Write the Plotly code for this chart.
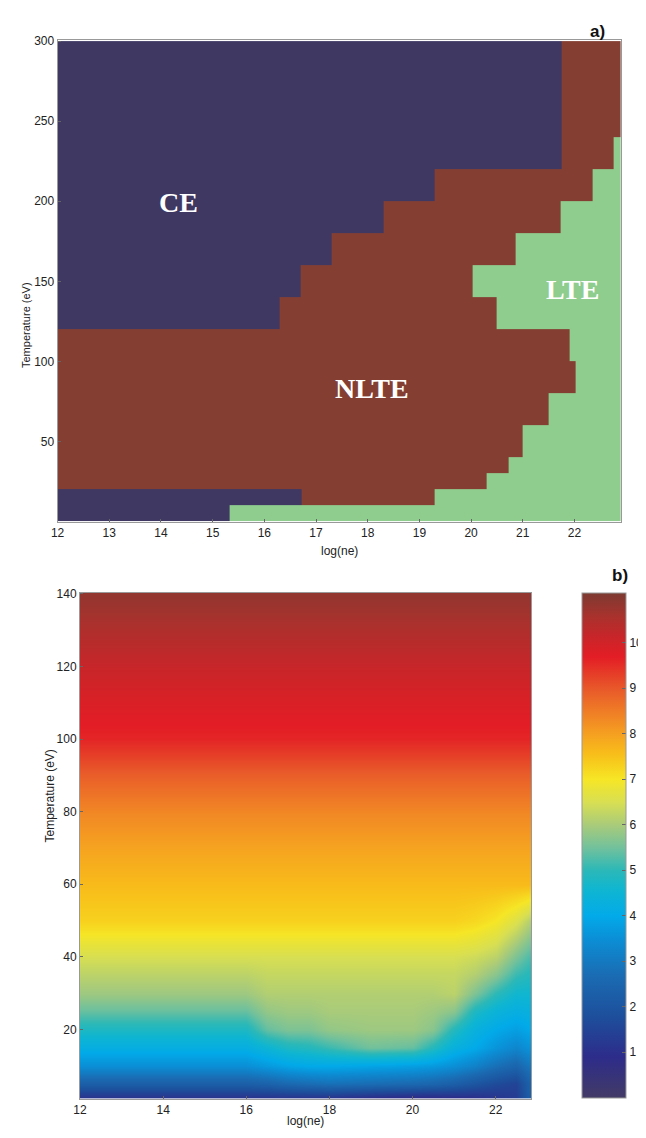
import plotly.graph_objects as go

# ---------------- Panel a: regime map ----------------
regime_names = ["CE", "NLTE", "LTE"]
regime_colors = ["#3e3863", "#843f32", "#8fcd8e"]
a_x_min, a_x_max = 12.0, 22.9
# temperature rows (edges, eV)
a_t_edges = [0, 10, 20, 30, 40, 60, 80, 100, 120, 140, 160, 180, 200, 220, 240, 300]
# per row: log(ne) where CE ends and where LTE begins
a_ce_end = [15.32, 16.72, 12.0, 12.0, 12.0, 12.0, 12.0, 12.0, 16.3, 16.7, 17.3, 18.3, 19.3, 21.75, 21.75]
a_lte_start = [15.32, 19.3, 20.3, 20.73, 21.0, 21.5, 22.03, 21.9, 20.5, 20.02, 20.87, 21.73, 22.35, 22.75, 22.9]

a_x_edges = sorted(set([a_x_min, a_x_max] + a_ce_end + a_lte_start))
a_z = []
for r in range(len(a_t_edges) - 1):
    row = []
    for c in range(len(a_x_edges) - 1):
        xc = 0.5 * (a_x_edges[c] + a_x_edges[c + 1])
        if xc < a_ce_end[r]:
            row.append(0)
        elif xc >= a_lte_start[r]:
            row.append(2)
        else:
            row.append(1)
    a_z.append(row)

# ---------------- Panel b: smooth field ----------------
b_x = [12, 16, 16.5, 17, 17.5, 18, 19, 20, 20.5, 21, 21.5, 22, 22.5, 22.85]
b_t_low = [1, 5, 10, 15, 20, 25, 30, 35, 40, 50]
b_z_low = [
    [1.0, 1.0, 1.0, 1.0, 1.0, 1.0, 0.8, 0.7, 0.7, 0.8, 0.9, 1.1, 1.3, 2.4],
    [2.3, 2.3, 2.4, 2.6, 2.7, 2.8, 2.7, 2.6, 2.5, 2.3, 2.0, 1.7, 1.5, 2.5],
    [3.5, 3.5, 3.7, 3.9, 4.0, 4.0, 3.9, 3.8, 3.7, 3.5, 3.2, 2.8, 2.5, 3.0],
    [4.2, 4.2, 4.5, 4.8, 4.9, 5.1, 5.5, 5.4, 4.9, 4.3, 4.0, 3.6, 3.3, 3.6],
    [4.8, 4.8, 5.4, 5.6, 5.6, 5.8, 5.9, 5.9, 5.7, 4.9, 4.3, 4.0, 3.8, 4.0],
    [5.4, 5.4, 5.8, 5.9, 5.9, 6.0, 6.0, 6.0, 5.9, 5.7, 4.8, 4.4, 4.2, 4.3],
    [5.9, 5.9, 6.1, 6.1, 6.1, 6.1, 6.1, 6.1, 6.1, 6.2, 5.6, 5.0, 4.6, 4.6],
    [6.2, 6.2, 6.3, 6.3, 6.3, 6.3, 6.3, 6.3, 6.3, 6.3, 6.1, 5.7, 5.1, 4.9],
    [6.5, 6.5, 6.5, 6.5, 6.5, 6.5, 6.5, 6.5, 6.5, 6.5, 6.4, 6.2, 5.6, 5.2],
    [7.3, 7.3, 7.3, 7.3, 7.3, 7.3, 7.3, 7.3, 7.3, 7.3, 7.2, 7.0, 6.6, 6.1],
]
# upper rows are uniform across log(ne)
b_t_high = [60, 70, 80, 90, 100, 110, 120, 130, 140]
b_z_high = [7.6, 7.95, 8.35, 8.9, 9.6, 9.85, 10.15, 10.5, 10.85]

b_t = b_t_low + b_t_high
b_z = [list(r) for r in b_z_low] + [[v] * len(b_x) for v in b_z_high]

cbar_ticks = [1, 2, 3, 4, 5, 6, 7, 8, 9, 10]
cmin, cmax = 0.0, 11.1
cmap_vals = [0.0, 0.9, 1.8, 2.7, 3.5, 4.0, 4.6, 5.0, 5.5, 6.0, 6.5, 7.0, 7.3, 7.6, 8.0, 8.6, 9.0, 9.7, 10.2, 10.6, 11.1]
cmap_cols = ["#433b66", "#2d2c8a", "#1d4f9c", "#1a6cb3", "#0b8fd6", "#02aae9", "#10b6d0",
             "#2bb8b8", "#72c19c", "#a9cb7a", "#d8df52", "#f6e626", "#f7d11e", "#f8bb1a", "#f5a021",
             "#ee7527", "#e8582a", "#e31d25", "#c4272a", "#a8322d", "#7c3a31"]

# ---------------- Figure ----------------
# page body has an 8 px margin; size the figure so it fills the 646x1138 window
OFF = 8
W, H = 646 - OFF, 1138 - OFF


def fx(p):
    return (p - OFF) / W


def fy(p):
    return 1 - (p - OFF) / H


fig = go.Figure()

disc = []
n = len(regime_colors)
for i, col in enumerate(regime_colors):
    disc.append([i / n, col])
    disc.append([(i + 1) / n, col])

fig.add_trace(go.Heatmap(
    x=a_x_edges, y=a_t_edges, z=a_z, zmin=-0.5, zmax=2.5,
    colorscale=disc, showscale=False, xaxis="x", yaxis="y",
    hoverinfo="skip"))

fig.add_trace(go.Heatmap(
    x=b_x, y=b_t, z=b_z, zsmooth="best", zmin=cmin, zmax=cmax,
    colorscale=[[(v - cmin) / (cmax - cmin), c] for v, c in zip(cmap_vals, cmap_cols)],
    xaxis="x2", yaxis="y2",
    colorbar=dict(
        x=fx(582), xanchor="left", y=fy(845), yanchor="middle",
        lenmode="pixels", len=505, thickness=44, thicknessmode="pixels",
        tickvals=cbar_ticks, ticks="inside", ticklen=4, tickcolor="#666",
        outlinewidth=1, outlinecolor="#999",
        tickfont=dict(family="Liberation Sans", size=12, color="#222"),
        xpad=0, ypad=0),
    hoverinfo="skip"))

font_tick = dict(family="Liberation Sans", size=12, color="#222")
axis_common = dict(showgrid=False, zeroline=False, showline=True, mirror=True,
                   linecolor="#999", linewidth=1, ticks="inside", ticklen=3,
                   tickcolor="#666", tickfont=font_tick, automargin=False)

fig.update_layout(
    width=W, height=H, margin=dict(l=0, r=0, t=0, b=0, autoexpand=False),
    paper_bgcolor="white", plot_bgcolor="white", showlegend=False,
    xaxis=dict(domain=[fx(57.6), fx(621)], range=[a_x_min, a_x_max],
               tickvals=list(range(12, 23)), anchor="y", **axis_common),
    yaxis=dict(domain=[fy(521.5), fy(39.5)], range=[0, 301],
               tickvals=[50, 100, 150, 200, 250, 300], anchor="x", **axis_common),
    xaxis2=dict(domain=[fx(80), fx(531)], range=[12, 22.85],
                tickvals=[12, 14, 16, 18, 20, 22], anchor="y2", **axis_common),
    yaxis2=dict(domain=[fy(1098.5), fy(592.7)], range=[1, 140.3],
                tickvals=[20, 40, 60, 80, 100, 120, 140], anchor="x2", **axis_common),
)

ann = []
lab_font = dict(family="Liberation Serif", size=28, color="white")
ann.append(dict(x=14.33, y=199, xref="x", yref="y", text="<b>CE</b>", showarrow=False, font=lab_font))
ann.append(dict(x=18.08, y=83, xref="x", yref="y", text="<b>NLTE</b>", showarrow=False, font=lab_font))
ann.append(dict(x=21.97, y=145, xref="x", yref="y", text="<b>LTE</b>", showarrow=False, font=lab_font))

title_font = dict(family="Liberation Sans", size=12, color="#222")
ann.append(dict(x=fx(339), y=fy(551), xref="paper", yref="paper", text="log(ne)",
                showarrow=False, font=title_font))
ann.append(dict(x=fx(18), y=fy(280), xref="paper", yref="paper", text="Temperature (eV)",
                textangle=-90, showarrow=False, font=dict(family="Liberation Sans", size=11, color="#222")))
ann.append(dict(x=fx(305), y=fy(1130), xref="paper", yref="paper", text="log(ne)",
                showarrow=False, font=title_font))
ann.append(dict(x=fx(40), y=fy(845), xref="paper", yref="paper", text="Temperature (eV)",
                textangle=-90, showarrow=False, font=title_font))
ann.append(dict(x=fx(607), y=fy(20), xref="paper", yref="paper", text="<b>a)</b>",
                showarrow=False, font=dict(family="Liberation Sans", size=17, color="#111")))
ann.append(dict(x=fx(630), y=fy(575), xref="paper", yref="paper", text="<b>b)</b>",
                showarrow=False, font=dict(family="Liberation Sans", size=17, color="#111")))
fig.update_layout(annotations=ann)

fig.write_html("out.html")
